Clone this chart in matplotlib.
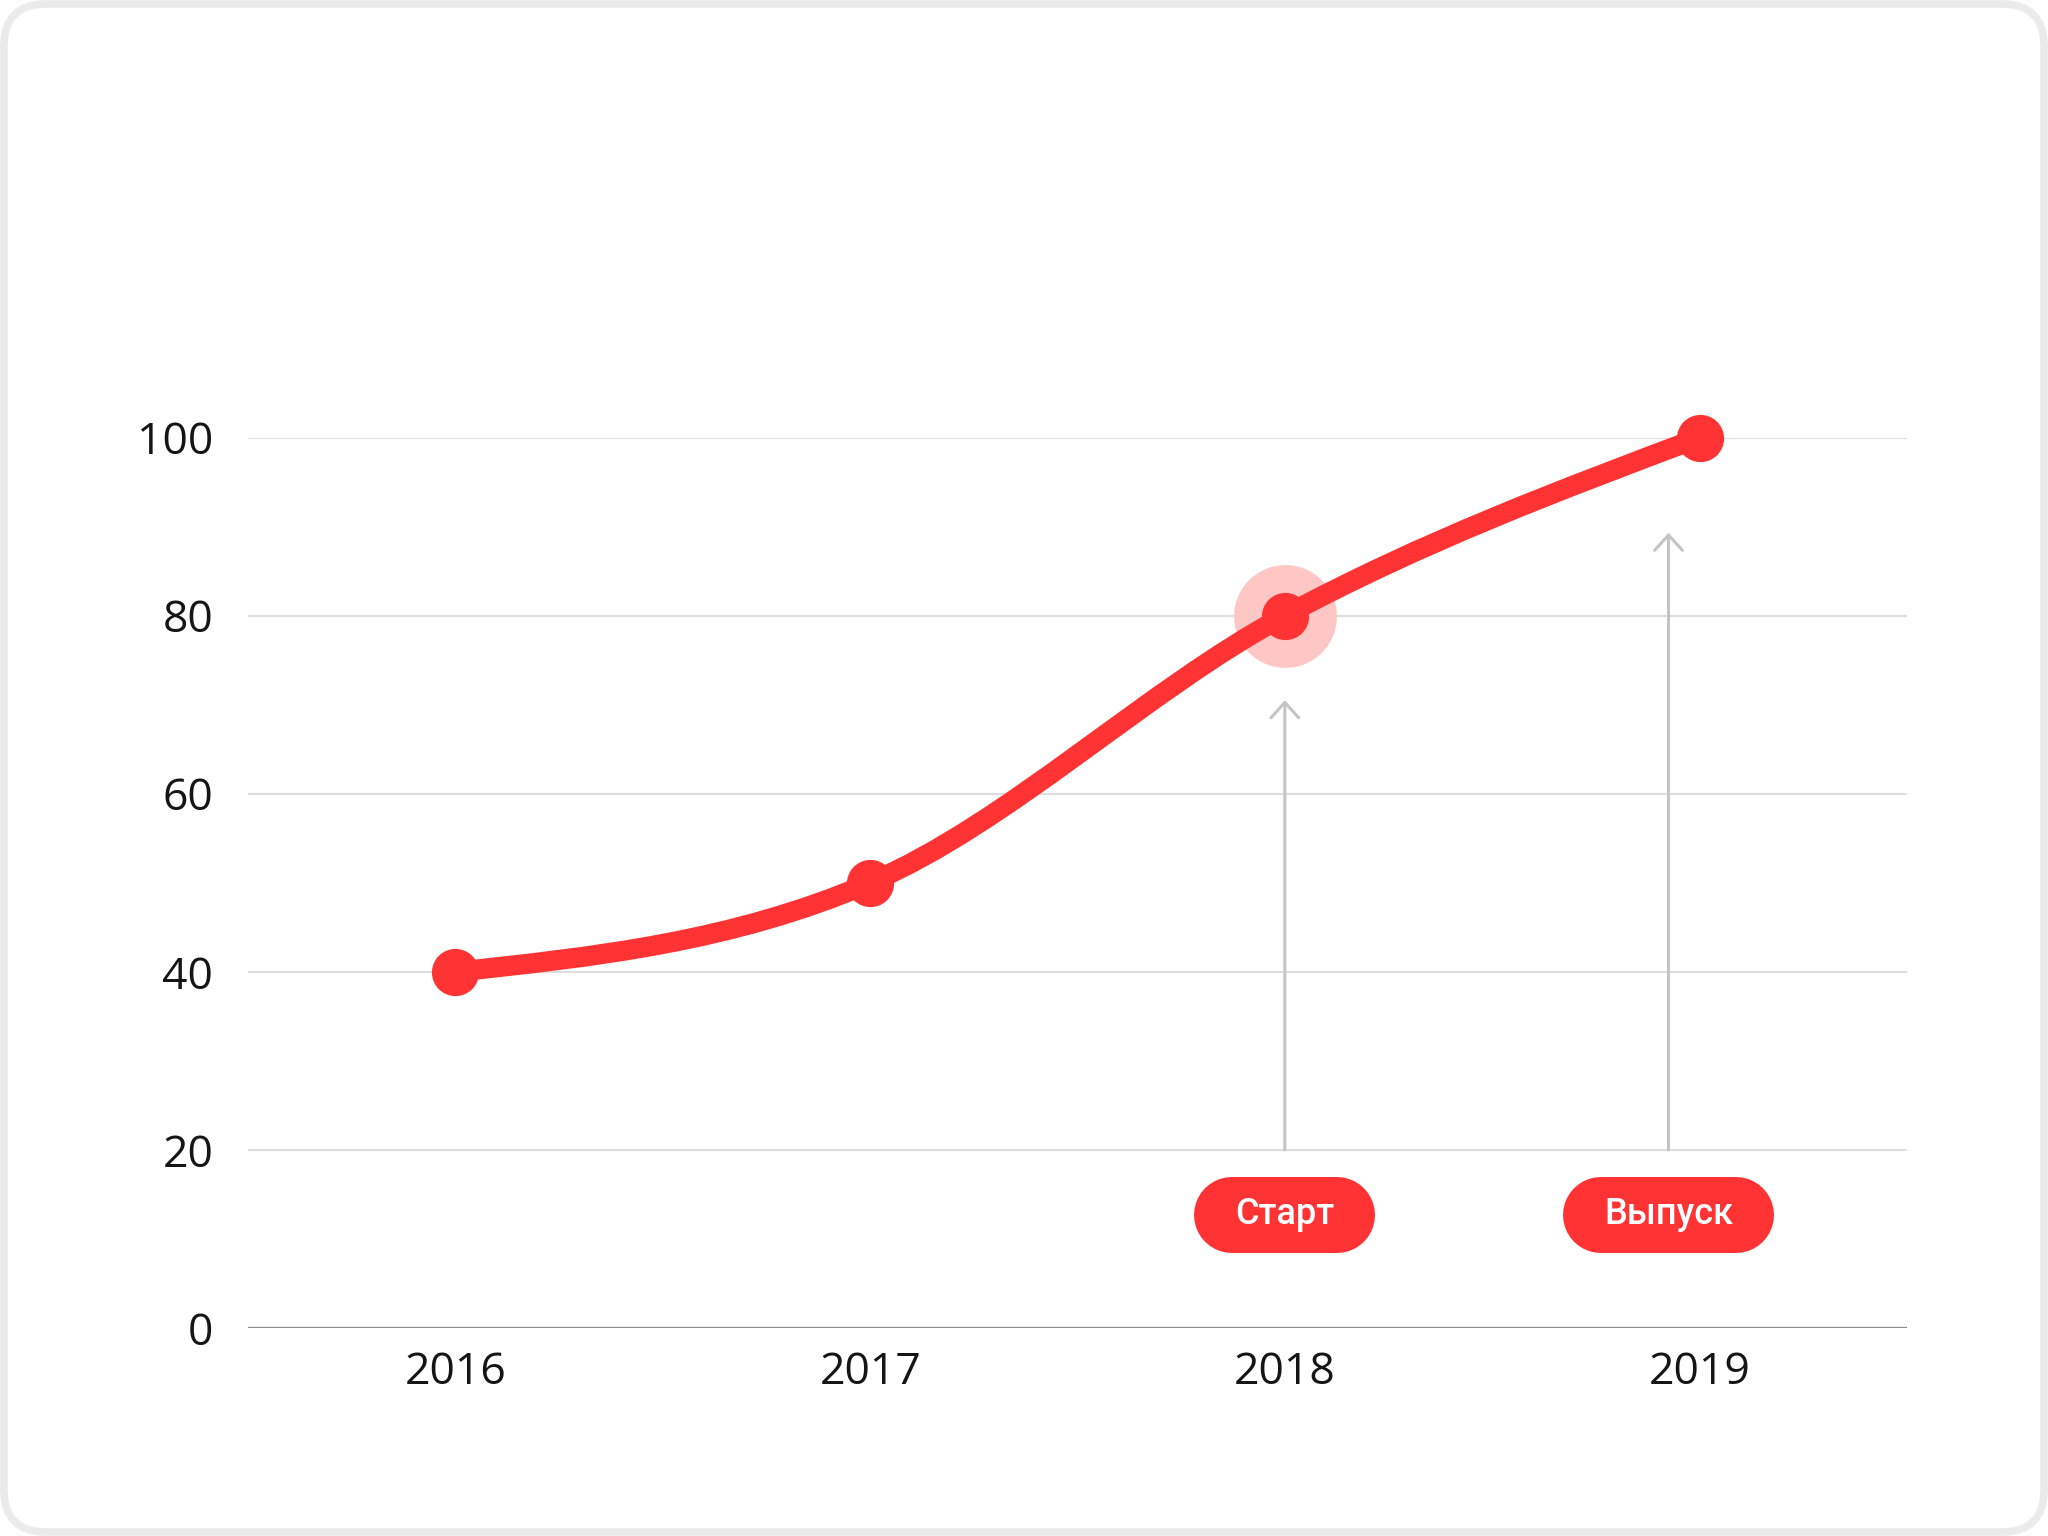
import numpy as np
import matplotlib
matplotlib.use("Agg")
import matplotlib.pyplot as plt
from matplotlib.path import Path
from matplotlib.patches import PathPatch, FancyBboxPatch

# data
years = [2016, 2017, 2018, 2019]
values = [40, 50, 80, 100]
y_ticks = [0, 20, 40, 60, 80, 100]
highlight_year, highlight_value = 2018, 80
# events: label, x of arrow, arrow top
events = ["Старт", "Выпуск"]
event_x = [2018.0, 2018.925]
event_top = [70.5, 89.3]
event_label_y = 12.7

RED = "#FF3333"
PINK = "#FFC6C6"
GRID = "#DEDEDE"
ARROW = "#C4C4C4"
TEXT = "#151515"

W, H = 2048, 1536
fig = plt.figure(figsize=(W / 100, H / 100), dpi=100)
fig.patch.set_facecolor("white")

# rounded card frame, pixel coordinates
bg = fig.add_axes([0, 0, 1, 1])
bg.set_xlim(0, W)
bg.set_ylim(0, H)
bg.axis("off")
bg.add_patch(FancyBboxPatch((4, 4), W - 8, H - 8,
                            boxstyle="round,pad=0,rounding_size=42",
                            fc="white", ec="#EBEBEB", lw=5.5))

L, R, B, T = 248, 1907, 1328, 437.5
ax = fig.add_axes([L / W, 1 - B / H, (R - L) / W, (B - T) / H])
ax.patch.set_alpha(0)
ax.set_xlim(2015.5, 2019.5)
ax.set_ylim(0, 100)

for s in ax.spines.values():
    s.set_visible(False)
ax.set_yticks(y_ticks)
ax.set_xticks(years)
ax.tick_params(length=0, labelsize=32, labelcolor=TEXT)
ax.tick_params(axis="y", pad=25)
ax.tick_params(axis="x", pad=16)
for lab in ax.get_xticklabels() + ax.get_yticklabels():
    lab.set_family(["Open Sans", "DejaVu Sans"])
for v in y_ticks:
    if v == 0:
        ax.axhline(v, color="#8C8C8C", lw=1.6, zorder=1)
    else:
        ax.axhline(v, color=GRID, lw=1.6, zorder=1)

# smooth monotone curve through the points (cubic bezier segments)
x = np.array(years, dtype=float)
y = np.array(values, dtype=float)
h = np.diff(x)
s = np.diff(y) / h
t = np.zeros(len(x))
for i in range(1, len(x) - 1):
    p = (s[i - 1] * h[i] + s[i] * h[i - 1]) / (h[i - 1] + h[i])
    t[i] = (np.sign(s[i - 1]) + np.sign(s[i])) * min(abs(s[i - 1]), abs(s[i]), 0.5 * abs(p))
t[0] = (3 * s[0] - t[1]) / 2
t[-1] = (3 * s[-1] - t[-2]) / 2
verts = [(x[0], y[0])]
codes = [Path.MOVETO]
for i in range(len(x) - 1):
    dx = h[i] / 3
    verts += [(x[i] + dx, y[i] + dx * t[i]), (x[i + 1] - dx, y[i + 1] - dx * t[i + 1]), (x[i + 1], y[i + 1])]
    codes += [Path.CURVE4] * 3
ax.add_patch(PathPatch(Path(verts, codes), fc="none", ec=RED, lw=14.5,
                       capstyle="round", joinstyle="round", zorder=4, clip_on=False))

ax.plot([highlight_year], [highlight_value], "o", ms=74, color=PINK, mec="none", zorder=3, clip_on=False)
ax.plot(years, values, "o", ms=34, color=RED, mec="none", zorder=5, clip_on=False)

# arrows + pill labels
fig.canvas.draw()
to_bg = bg.transData.inverted()
ph = 76  # pill height in px
for lab, ex, top in zip(events, event_x, event_top):
    ax.annotate("", xy=(ex, top), xytext=(ex, 20),
                arrowprops=dict(arrowstyle="->,head_length=0.55,head_width=0.5",
                                color=ARROW, lw=2.2, shrinkA=0, shrinkB=0,
                                mutation_scale=20), zorder=2)
    cx, cy = to_bg.transform(ax.transData.transform((ex, event_label_y)))
    txt = bg.text(cx, cy, lab, ha="center", va="center", color="white",
                  fontsize=26, fontweight="medium", family=["Roboto", "DejaVu Sans"], zorder=7)
    fig.canvas.draw()
    pw = txt.get_window_extent().width + 82
    half = (pw - ph) / 2
    # pill = thick line with round caps
    bg.plot([cx - half, cx + half], [cy, cy], color=RED, lw=ph * 72 / 100,
            solid_capstyle="round", zorder=6)

fig.savefig("out.png", dpi=100, facecolor="white")
